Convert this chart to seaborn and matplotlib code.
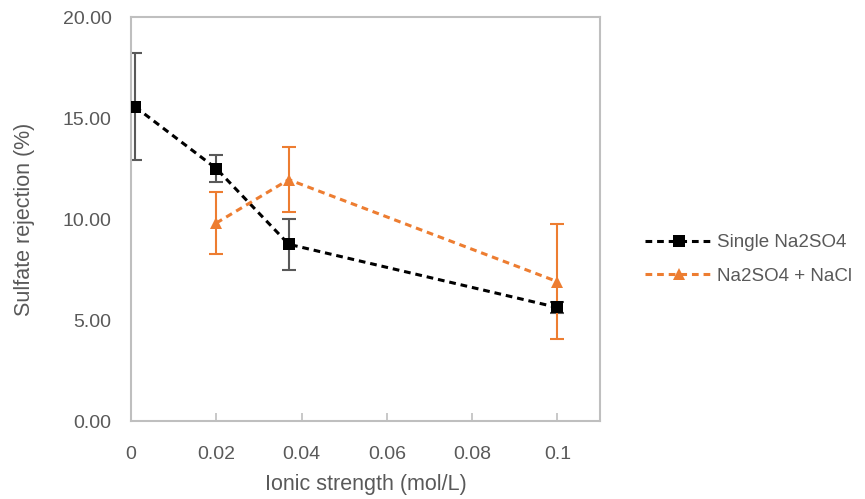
import matplotlib
matplotlib.use("Agg")
import matplotlib.pyplot as plt
import seaborn as sns
import pandas as pd
from matplotlib.ticker import FormatStrFormatter, FixedLocator

sns.set_style("white")
plt.rcParams['font.family'] = ['Liberation Sans', 'DejaVu Sans']

# Data
x_single = [0.001, 0.02, 0.037, 0.1]
y_single = [15.55, 12.5, 8.75, 5.62]
err_single = [2.65, 0.65, 1.25, 0.25]

x_mix = [0.02, 0.037, 0.1]
y_mix = [9.8, 11.95, 6.9]
err_mix = [1.55, 1.6, 2.85]

labels = ["Single Na2SO4", "Na2SO4 + NaCl"]
xticks = [0, 0.02, 0.04, 0.06, 0.08, 0.1]
xticklabels = ["0", "0.02", "0.04", "0.06", "0.08", "0.1"]

df = pd.concat([
    pd.DataFrame({"x": x_single, "y": y_single, "series": labels[0]}),
    pd.DataFrame({"x": x_mix, "y": y_mix, "series": labels[1]}),
])

gray_text = "#595959"
axis_col = "#BFBFBF"
orange = "#ED7D31"

fig = plt.figure(figsize=(8.65, 4.99), dpi=100)
ax = fig.add_axes([0.1514, 0.1563, 0.6936 - 0.1514, 0.9659 - 0.1563])

ax.errorbar(x_single, y_single, yerr=err_single, fmt='none', ecolor="#595959",
            elinewidth=1.5, capsize=5, capthick=1.5, zorder=2)
ax.errorbar(x_mix, y_mix, yerr=err_mix, fmt='none', ecolor=orange,
            elinewidth=1.5, capsize=5, capthick=1.5, zorder=2.5)

sns.lineplot(data=df, x="x", y="y", hue="series", style="series",
             palette={labels[0]: "black", labels[1]: orange},
             markers={labels[0]: "s", labels[1]: "^"},
             dashes={labels[0]: (2.2, 1.6), labels[1]: (2.2, 1.6)},
             markersize=9, linewidth=2.2, markeredgewidth=0,
             ax=ax, zorder=3, sort=False)

ax.set_xlim(0, 0.11)
ax.set_ylim(0, 20)
ax.xaxis.set_major_locator(FixedLocator(xticks))
ax.set_xticklabels(xticklabels)
ax.set_yticks([0, 5, 10, 15, 20])
ax.yaxis.set_major_formatter(FormatStrFormatter("%.2f"))

for s in ax.spines.values():
    s.set_visible(True)
    s.set_color(axis_col)
    s.set_linewidth(1.5)

ax.tick_params(axis='x', direction='in', length=6, width=1.2, color=axis_col,
               labelsize=14, labelcolor=gray_text, pad=18, bottom=True)
ax.tick_params(axis='y', length=0, labelsize=14, labelcolor=gray_text, pad=14)

ax.set_xlabel("Ionic strength (mol/L)", fontsize=15.5, color=gray_text, labelpad=8)
ax.set_ylabel("Sulfate rejection (%)", fontsize=15.5, color=gray_text, labelpad=20)

handles, lbls = ax.get_legend_handles_labels()
ax.legend(handles, lbls, loc='center left', bbox_to_anchor=(1.06, 0.40),
          frameon=False, fontsize=13.5, labelcolor=gray_text,
          handlelength=3.6, handletextpad=0.25, labelspacing=0.85, numpoints=1)

fig.savefig("out.png", dpi=100)
